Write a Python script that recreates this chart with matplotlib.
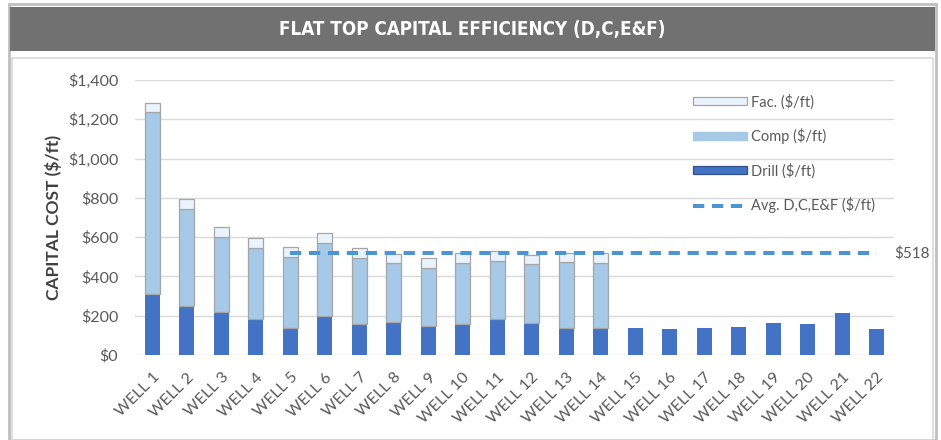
import matplotlib
matplotlib.use("Agg")
import matplotlib.pyplot as plt
from matplotlib.patches import Rectangle, Patch
from matplotlib.lines import Line2D
from matplotlib.ticker import FuncFormatter, MultipleLocator
import numpy as np

wells = [f"WELL {i}" for i in range(1, 23)]
drill = [309, 249, 221, 181, 136, 200, 156, 170, 148, 156, 182, 164, 136, 140,
         136, 131, 139, 144, 161, 156, 212, 131]
comp = [929, 492, 381, 362, 361, 368, 336, 298, 293, 314, 297, 297, 339, 330,
        0, 0, 0, 0, 0, 0, 0, 0]
fac = [47, 52, 51, 51, 51, 51, 51, 48, 54, 48, 51, 48, 45, 48,
       0, 0, 0, 0, 0, 0, 0, 0]
avg_value = 518
avg_start, avg_end = 4, 21  # WELL 5 .. WELL 22

plt.rcParams['font.family'] = ['Lato', 'DejaVu Sans']

C_DRILL = '#4472C4'
C_COMP = '#A6C9E8'
C_FAC = '#EAF3FC'
C_EDGE = '#A6A6A6'
C_AVG = '#4D94D3'
C_TXT = '#595959'

fig = plt.figure(figsize=(9.41, 4.40), dpi=100)
fig.patch.set_facecolor('white')

W, H = 941, 440
def fx(x): return x / W
def fy(y): return 1 - y / H

# outer border
fig.patches.append(Rectangle((fx(9), fy(440)), fx(936) - fx(9), fy(4) - fy(440),
                             transform=fig.transFigure, facecolor='none',
                             edgecolor='#BFBFBF', lw=2.0))
# title bar
fig.patches.append(Rectangle((fx(10), fy(51)), fx(935) - fx(10), fy(7) - fy(51),
                             transform=fig.transFigure, facecolor='#717171',
                             edgecolor='none'))
# inner panel border
fig.patches.append(Rectangle((fx(12), fy(440)), fx(933) - fx(12), fy(58) - fy(440),
                             transform=fig.transFigure, facecolor='none',
                             edgecolor='#D9D9D9', lw=1.2))
fig.text(fx(472), fy(29), "FLAT TOP CAPITAL EFFICIENCY (D,C,E&F)", color='white',
         ha='center', va='center', fontsize=13.5, fontweight='semibold',
         family=['DejaVu Sans'], fontstretch='condensed')

ax = fig.add_axes([fx(135), fy(355), fx(894) - fx(135), fy(80) - fy(355)])
x = np.arange(len(wells))
bw = 0.43
drill_a = np.array(drill)
comp_a = np.array(comp)
fac_a = np.array(fac)

ax.bar(x, drill_a, width=bw, color=C_DRILL, edgecolor='none', zorder=3)
mask = comp_a > 0
ax.bar(x[mask], comp_a[mask], bottom=drill_a[mask], width=bw, color=C_COMP,
       edgecolor=C_EDGE, lw=0.9, zorder=3)
ax.bar(x[mask], fac_a[mask], bottom=(drill_a + comp_a)[mask], width=bw, color=C_FAC,
       edgecolor=C_EDGE, lw=0.9, zorder=3)
ax.plot([avg_start, avg_end], [avg_value, avg_value], color=C_AVG, lw=2.9,
        dashes=(2.8, 1.9), zorder=4, solid_capstyle='butt', dash_capstyle='butt')
ax.text(len(wells) - 0.5 + 0.01, avg_value, f"${avg_value}", color=C_TXT,
        fontsize=11, va='center', ha='left', transform=ax.transData,
        clip_on=False)

ax.set_xlim(-0.5, len(wells) - 0.5)
ax.set_ylim(0, 1400)
ax.yaxis.set_major_locator(MultipleLocator(200))
ax.yaxis.set_major_formatter(FuncFormatter(lambda v, p: f"${v:,.0f}"))
ax.grid(axis='y', color='#D9D9D9', lw=1.0, zorder=0)
for s in ax.spines.values():
    s.set_visible(False)
ax.tick_params(axis='both', length=0, colors=C_TXT, labelsize=11.5)
ax.tick_params(axis='y', pad=12)
ax.set_xticks(x)
ax.set_xticklabels(wells, rotation=45, ha='right', rotation_mode='anchor',
                   fontsize=11.5, color=C_TXT)
ax.tick_params(axis='x', pad=11)
ax.set_ylabel("CAPITAL COST ($/ft)", fontsize=12.5, fontweight='bold',
              color='#404040', labelpad=4)

handles = [Patch(facecolor=C_FAC, edgecolor=C_EDGE, lw=0.9),
           Patch(facecolor=C_COMP, edgecolor=C_COMP),
           Patch(facecolor=C_DRILL, edgecolor='#2F528F', lw=0.9),
           Line2D([0], [0], color=C_AVG, lw=2.9, dashes=(2.8, 1.9))]
labels = ["Fac. ($/ft)", "Comp ($/ft)", "Drill ($/ft)", "Avg. D,C,E&F ($/ft)"]
leg = ax.legend(handles, labels, loc='upper left',
                bbox_to_anchor=(fx(693), fy(94)), bbox_transform=fig.transFigure,
                frameon=False, fontsize=10.5, handlelength=3.7, handleheight=0.5,
                labelspacing=1.3, handletextpad=0.3, labelcolor=C_TXT,
                borderpad=0, borderaxespad=0)

fig.savefig("out.png", dpi=100, facecolor='white')
